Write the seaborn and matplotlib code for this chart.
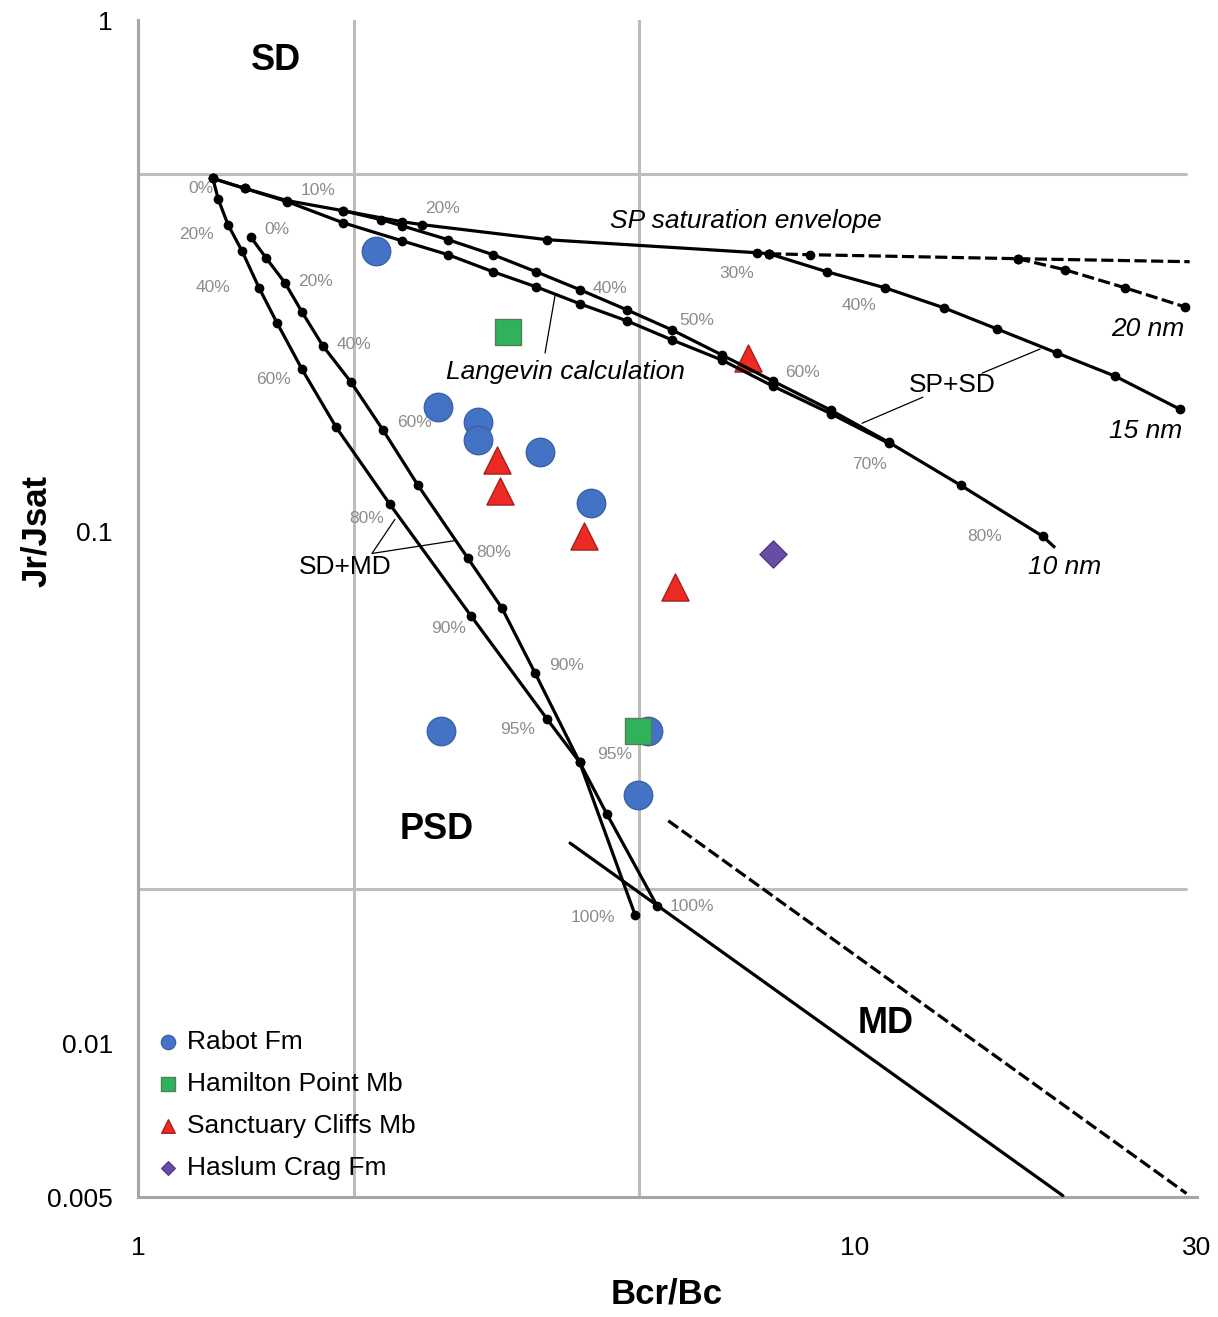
import matplotlib.pyplot as plt
import seaborn as sns
import pandas as pd

# --- samples (Bcr/Bc, Jr/Jsat) ---
rabot_x = [2.15, 2.62, 2.98, 2.98, 3.64, 4.28, 2.65, 5.15, 4.98]
rabot_y = [0.354, 0.175, 0.164, 0.151, 0.143, 0.1135, 0.0407, 0.0407, 0.0305]
hamilton_x = [3.28, 4.98]
hamilton_y = [0.2456, 0.0407]
sanctuary_x = [7.09, 3.17, 3.20, 4.19, 5.61]
sanctuary_y = [0.218, 0.138, 0.120, 0.0978, 0.078]
haslum_x = [7.69]
haslum_y = [0.0905]

# --- mixing curves ---
env_x = [1.272, 1.410, 1.614, 1.93, 2.331, 2.489, 3.720, 7.30, 7.59]
env_y = [0.490, 0.4685, 0.4436, 0.424, 0.4035, 0.3981, 0.3720, 0.3508, 0.3492]
env_dash_x = [7.59, 8.66, 16.88, 29.3]
env_dash_y = [0.3492, 0.3477, 0.3415, 0.3369]
nm20_x = [16.88, 19.63, 23.8, 28.86]
nm20_y = [0.3415, 0.3249, 0.2996, 0.2749]
nm15_x = [7.59, 9.14, 11.01, 13.31, 15.78, 19.13, 23.05, 28.4]
nm15_y = [0.3492, 0.3220, 0.2996, 0.2737, 0.2489, 0.2234, 0.2013, 0.1734]
nm10_x = [1.93, 2.183, 2.331, 2.707, 3.127, 3.591, 4.136, 4.809, 5.557, 6.523,
          7.685, 9.259, 11.15, 14.05, 18.29, 19.01]
nm10_y = [0.424, 0.4072, 0.3963, 0.3720, 0.3477, 0.3220, 0.2969, 0.2712, 0.2478,
          0.2214, 0.1968, 0.1726, 0.1494, 0.1231, 0.0978, 0.0930]
langevin_x = [1.272, 1.410, 1.614, 1.93, 2.331, 2.707, 3.127, 3.591, 4.136, 4.809,
              5.557, 6.523, 7.685, 9.259, 11.15]
langevin_y = [0.490, 0.4685, 0.4416, 0.4017, 0.3704, 0.3477, 0.3220, 0.3009, 0.2787,
              0.2581, 0.2369, 0.2164, 0.1924, 0.1699, 0.1487]
sdmd_a_x = [1.272, 1.293, 1.335, 1.396, 1.475, 1.563, 1.693, 1.889, 2.246, 2.914,
            3.720, 4.13, 4.51, 5.295]
sdmd_a_y = [0.490, 0.4477, 0.3981, 0.3540, 0.2996, 0.2557, 0.2077, 0.1600, 0.1130,
            0.0684, 0.0430, 0.0354, 0.0280, 0.01856]
sdmd_b_x = [1.437, 1.508, 1.603, 1.693, 1.811, 1.982, 2.197, 2.458, 2.886, 3.219,
            3.579, 4.13, 4.934]
sdmd_b_y = [0.3762, 0.3430, 0.3064, 0.2688, 0.2306, 0.1959, 0.1578, 0.1231, 0.0886,
            0.0708, 0.0529, 0.0354, 0.01782]
md_x = [4.005, 19.5]
md_y = [0.0246, 0.00503]
md_dash_x = [5.49, 29.0]
md_dash_y = [0.0272, 0.00508]

# Day plot domain boundaries
bound_x = [2, 5]
bound_y = [0.5, 0.02]

pct_labels = ['0%', '10%', '20%', '20%', '0%', '40%', '20%', '40%', '60%', '60%',
              '30%', '40%', '50%', '60%', '40%', '70%', '80%', '80%', '80%',
              '90%', '90%', '95%', '95%', '100%', '100%']
pct_x = [1.224, 1.782, 2.655, 1.205, 1.563, 1.272, 1.771, 2.001, 1.543, 2.427,
         6.845, 4.553, 6.022, 8.44, 10.13, 10.49, 15.18, 2.086, 3.137,
         2.707, 3.966, 3.388, 4.627, 4.311, 5.927]
pct_y = [0.4685, 0.464, 0.428, 0.3805, 0.389, 0.2996, 0.3078, 0.2316, 0.1986, 0.1636,
         0.319, 0.2982, 0.2581, 0.205, 0.2762, 0.1353, 0.0978, 0.106, 0.091,
         0.0645, 0.0548, 0.0411, 0.0367, 0.01758, 0.01848]

sns.set_style('white')
plt.rcParams['font.family'] = ['Liberation Sans', 'DejaVu Sans']
plt.rcParams['text.color'] = 'black'
plt.rcParams['axes.labelcolor'] = 'black'
plt.rcParams['xtick.labelcolor'] = 'black'
plt.rcParams['ytick.labelcolor'] = 'black'

fig = plt.figure(figsize=(12.18, 13.17), dpi=100)
ax = fig.add_axes([0.1133, 0.0911, 0.8695, 0.8937])
ax.set_xscale('log')
ax.set_yscale('log')
ax.set_xlim(1, 30)
ax.set_ylim(0.005, 1)

grid_c = '#bdbdbd'
for v in bound_x:
    ax.axvline(v, color=grid_c, lw=2.2, zorder=0)
for v in bound_y:
    ax.axhline(v, xmax=0.99, color=grid_c, lw=2.2, zorder=0)

# samples
samples = pd.DataFrame({
    'x': rabot_x + hamilton_x + sanctuary_x + haslum_x,
    'y': rabot_y + hamilton_y + sanctuary_y + haslum_y,
    'unit': (['Rabot Fm'] * len(rabot_x) + ['Hamilton Point Mb'] * len(hamilton_x)
             + ['Sanctuary Cliffs Mb'] * len(sanctuary_x) + ['Haslum Crag Fm'] * len(haslum_x)),
})
styles = {
    'Rabot Fm': ('o', 420, '#4472c4', '#3a62a8'),
    'Hamilton Point Mb': ('s', 360, '#2fb35a', '#5a7a5a'),
    'Sanctuary Cliffs Mb': ('^', 380, '#ee2a24', '#a52020'),
    'Haslum Crag Fm': ('D', 190, '#6a4ca6', '#50388a'),
}
for name, (mk, s, fc, ec) in styles.items():
    sub = samples[samples['unit'] == name]
    sns.scatterplot(data=sub, x='x', y='y', marker=mk, s=s, color=fc, edgecolor=ec,
                    linewidth=1, label=name, ax=ax, zorder=2.5)


def curve(xs, ys, ls='-', skip_last=False):
    me = list(range(len(xs) - 1)) if skip_last else None
    ax.plot(xs, ys, color='black', lw=2.3, ls=ls, marker='o', ms=6,
            markevery=me, zorder=3, solid_capstyle='butt')


dash = (0, (3.8, 1.4))
curve(env_x, env_y)
curve(env_dash_x, env_dash_y, ls=dash, skip_last=True)
curve(nm20_x, nm20_y, ls=dash)
curve(nm15_x, nm15_y)
curve(nm10_x, nm10_y, skip_last=True)
curve(langevin_x, langevin_y)
curve(sdmd_a_x, sdmd_a_y)
curve(sdmd_b_x, sdmd_b_y)
ax.plot(md_x, md_y, color='black', lw=2.3, zorder=3)
ax.plot(md_dash_x, md_dash_y, color='black', lw=2.3, ls=dash, zorder=3)

# leader lines
thin = dict(color='black', lw=0.9, zorder=3)
ax.plot([3.696, 3.816], [0.2234, 0.289], **thin)
ax.plot([10.23, 12.44], [0.1628, 0.1831], **thin)
ax.plot([15.04, 18.12], [0.204, 0.2274], **thin)
ax.plot([2.282, 2.120, 2.768], [0.1056, 0.0906, 0.0960], **thin)

# percentage labels
for t, x, y in zip(pct_labels, pct_x, pct_y):
    ax.text(x, y, t, fontsize=12.5, color='#8c8c8c', ha='center', va='center', zorder=2)

# annotations
big = dict(fontsize=26, fontweight='bold', ha='center', va='center')
ax.text(1.56, 0.835, 'SD', **big)
ax.text(2.61, 0.02616, 'PSD', **big)
ax.text(11.05, 0.01094, 'MD', **big)
it = dict(fontsize=19, style='italic', ha='center', va='center')
ax.text(7.05, 0.4054, 'SP saturation envelope', **it)
ax.text(3.94, 0.205, 'Langevin calculation', **it)
ax.text(25.6, 0.2489, '20 nm', **it)
ax.text(25.4, 0.157, '15 nm', **it)
ax.text(19.63, 0.0854, '10 nm', **it)
ax.text(13.66, 0.1933, 'SP+SD', fontsize=19, ha='center', va='center')
ax.text(1.944, 0.0854, 'SD+MD', fontsize=19, ha='center', va='center')

# axes styling
axis_c = '#a6a6a6'
sns.despine(ax=ax)
for sp in ['left', 'bottom']:
    ax.spines[sp].set_color(axis_c)
    ax.spines[sp].set_linewidth(2.2)

ax.set_xticks([1, 10, 30])
ax.set_xticklabels(['1', '10', '30'])
ax.set_xticks([2, 3, 4, 5, 6, 7, 8, 9, 20], minor=True)
ax.set_xticklabels([], minor=True)
ax.set_yticks([1, 0.1, 0.01, 0.005])
ax.set_yticklabels(['1', '0.1', '0.01', '0.005'])
ax.set_yticks([0.9, 0.8, 0.7, 0.6, 0.4, 0.3, 0.2, 0.09, 0.08, 0.07, 0.06, 0.05, 0.04,
               0.03, 0.009, 0.008, 0.007, 0.006], minor=True)
ax.set_yticklabels([], minor=True)
ax.tick_params(axis='x', which='major', direction='inout', length=36, width=2.2,
               color=axis_c, labelsize=19, pad=10)
ax.tick_params(axis='x', which='minor', direction='out', length=12, width=2.2, color=axis_c)
ax.tick_params(axis='y', which='major', direction='inout', length=22, width=2.2,
               color=axis_c, labelsize=19, pad=7)
ax.tick_params(axis='y', which='minor', direction='out', length=8, width=2.2, color=axis_c)

ax.set_xlabel('Bcr/Bc', fontsize=25, fontweight='bold')
ax.set_ylabel('Jr/Jsat', fontsize=25, fontweight='bold')
ax.xaxis.set_label_coords(0.4995, -0.068)
ax.yaxis.set_label_coords(-0.080, 0.566)

ax.legend(loc='upper left', bbox_to_anchor=(0.0085, 0.151), frameon=False,
          markerscale=0.5, fontsize=19, handlelength=0.8, handletextpad=0.3,
          labelspacing=0.68, borderaxespad=0)

fig.savefig('out.png', dpi=100)
